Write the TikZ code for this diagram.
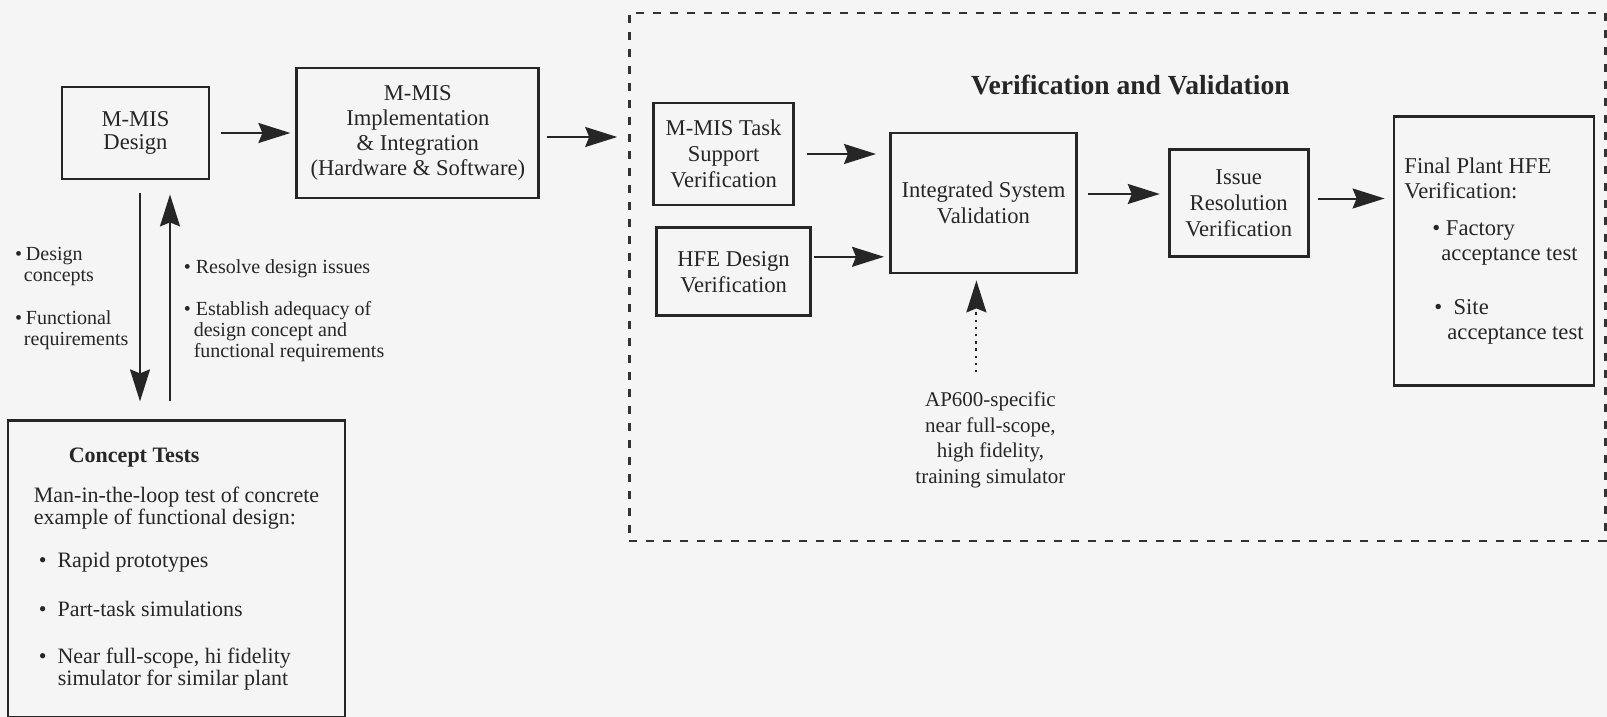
\documentclass[tikz,border=0pt]{standalone}
\usepackage{fontspec}
\setmainfont{Liberation Serif}
\usetikzlibrary{positioning}
\usetikzlibrary{arrows.meta}

\begin{document}
\begin{tikzpicture}[font=\fontsize{11.3}{13}\selectfont, text=black!85]
        \tikzstyle{node_style} = [rectangle, draw=black!85, line width=1.4pt, align=center, inner sep=0pt]
        \tikzstyle{note_style} = [align=left, inner sep=0pt, font=\fontsize{10}{10.5}\selectfont]
        \tikzstyle{frame_style} = [rectangle, draw=black!80, line width=1.2pt, dash pattern=on 4pt off 4.5pt]
        \tikzstyle{arrow_style1} = [-{Stealth[length=16pt, width=10pt, inset=2pt]}, black!85, line width=1pt]

        \path[use as bounding box, fill=black!4] (0,0) rectangle (803.5pt,-358.5pt);

        \node[node_style, minimum width=73.5pt, minimum height=46pt, font=\fontsize{11.3}{11.5}\selectfont] (n_design) at (67.75pt,-66.5pt) {M-MIS\\Design};
        \node[node_style, minimum width=121pt, minimum height=65pt, font=\fontsize{11.3}{12.5}\selectfont] (n_impl) [right=42.5pt of n_design] {M-MIS\\Implementation\\\& Integration\\(Hardware \& Software)};
        \node[frame_style, minimum width=488pt, minimum height=264pt] (n_vv) [right=44pt of n_impl, yshift=-72pt] {};
        \node[inner sep=0pt, font=\bfseries\fontsize{13.8}{15}\selectfont] (n_title) [below=31.5pt of n_vv.north, xshift=6.5pt] {Verification and Validation};

        \node[node_style, minimum width=70pt, minimum height=51pt] (n_task) [right=56pt of n_impl, yshift=-10.5pt] {M-MIS Task\\Support\\Verification};
        \node[node_style, minimum width=77pt, minimum height=44pt] (n_hfe) [below=10pt of n_task.south west, anchor=north west, xshift=1.5pt] {HFE Design\\Verification};
        \node[node_style, minimum width=93pt, minimum height=70pt] (n_isv) [right=47pt of n_task, yshift=-24.5pt] {Integrated System\\Validation};
        \node[node_style, minimum width=69.5pt, minimum height=53.5pt] (n_issue) [right=45pt of n_isv] {Issue\\Resolution\\Verification};
        \node[node_style, minimum width=100pt, minimum height=134.5pt, align=left, font=\fontsize{11.3}{12.5}\selectfont] (n_final) [right=41.5pt of n_issue, yshift=-24pt] {Final Plant HFE\\Verification:\\[6pt]\hspace*{14pt}\textbullet\ Factory\\\hspace*{18.5pt}acceptance test\\[14.5pt]\hspace*{15pt}\textbullet\ \ Site\\\hspace*{21.5pt}acceptance test};
        \node[inner sep=0pt, align=center, font=\fontsize{10.5}{12.8}\selectfont] (n_sim) [below=58.5pt of n_isv, xshift=3.5pt] {AP600-specific\\near full-scope,\\high fidelity,\\training simulator};

        \node[node_style, minimum width=168.5pt, minimum height=148.5pt, align=left, font=\fontsize{11}{10}\selectfont] (n_concept) [below=119.5pt of n_design.south west, anchor=north west, xshift=-27pt] {\hspace*{17.5pt}\textbf{Concept Tests}\\[8.5pt]Man-in-the-loop test of concrete\\example of functional design:\\[10.5pt]\hspace*{2.5pt}\textbullet\hspace{5.5pt}Rapid prototypes\\[13.5pt]\hspace*{2.5pt}\textbullet\hspace{5.5pt}Part-task simulations\\[13.5pt]\hspace*{2.5pt}\textbullet\hspace{5.5pt}Near full-scope, hi fidelity\\\hspace*{12pt}simulator for similar plant};
        \node[note_style] (n_out) [below=33pt of n_design.south west, anchor=north west, xshift=-23pt] {\textbullet\hspace{2pt}Design\\\hspace*{4.5pt}concepts\\[11pt]\textbullet\hspace{2pt}Functional\\\hspace*{4.5pt}requirements};
        \node[note_style] (n_in) [below=39.5pt of n_design.south east, anchor=north west, xshift=-13.5pt] {\textbullet\ Resolve design issues\\[10.5pt]\textbullet\ Establish adequacy of\\\hspace*{5pt}design concept and\\\hspace*{5pt}functional requirements};

        \draw [arrow_style1, shorten <=5.5pt, shorten >=2.5pt] (n_design) -- (n_impl);
        \draw [arrow_style1, shorten <=3.5pt, shorten >=5.5pt, transform canvas={yshift=-2pt}] (n_impl.east) -- (n_impl.east -| n_vv.west);
        \draw [arrow_style1, shorten <=6pt, shorten >=6.5pt] (n_task.east) -- (n_task.east -| n_isv.west);
        \draw [arrow_style1, shorten <=1pt, shorten >=2.5pt, transform canvas={yshift=7.5pt}] (n_hfe.east) -- (n_hfe.east -| n_isv.west);
        \draw [arrow_style1, shorten <=5pt, shorten >=4pt, transform canvas={yshift=4.5pt}] (n_isv) -- (n_issue);
        \draw [arrow_style1, shorten <=4pt, shorten >=4pt, transform canvas={yshift=2.25pt}] (n_issue.east) -- (n_issue.east -| n_final.west);

        \draw [arrow_style1, shorten <=6.5pt, shorten >=9pt, transform canvas={xshift=2.25pt}] (n_design.south) -- (n_design.south |- n_concept.north);
        \draw [arrow_style1, shorten <=9pt, shorten >=7pt, transform canvas={xshift=17.25pt}] (n_design.south |- n_concept.north) -- (n_design.south);
        \draw [arrow_style1, dash pattern=on 1.2pt off 2.4pt, shorten <=9.5pt, shorten >=3pt, transform canvas={xshift=-3.5pt}] (n_isv.south |- n_sim.north) -- (n_isv.south);

    \end{tikzpicture}
\end{document}
